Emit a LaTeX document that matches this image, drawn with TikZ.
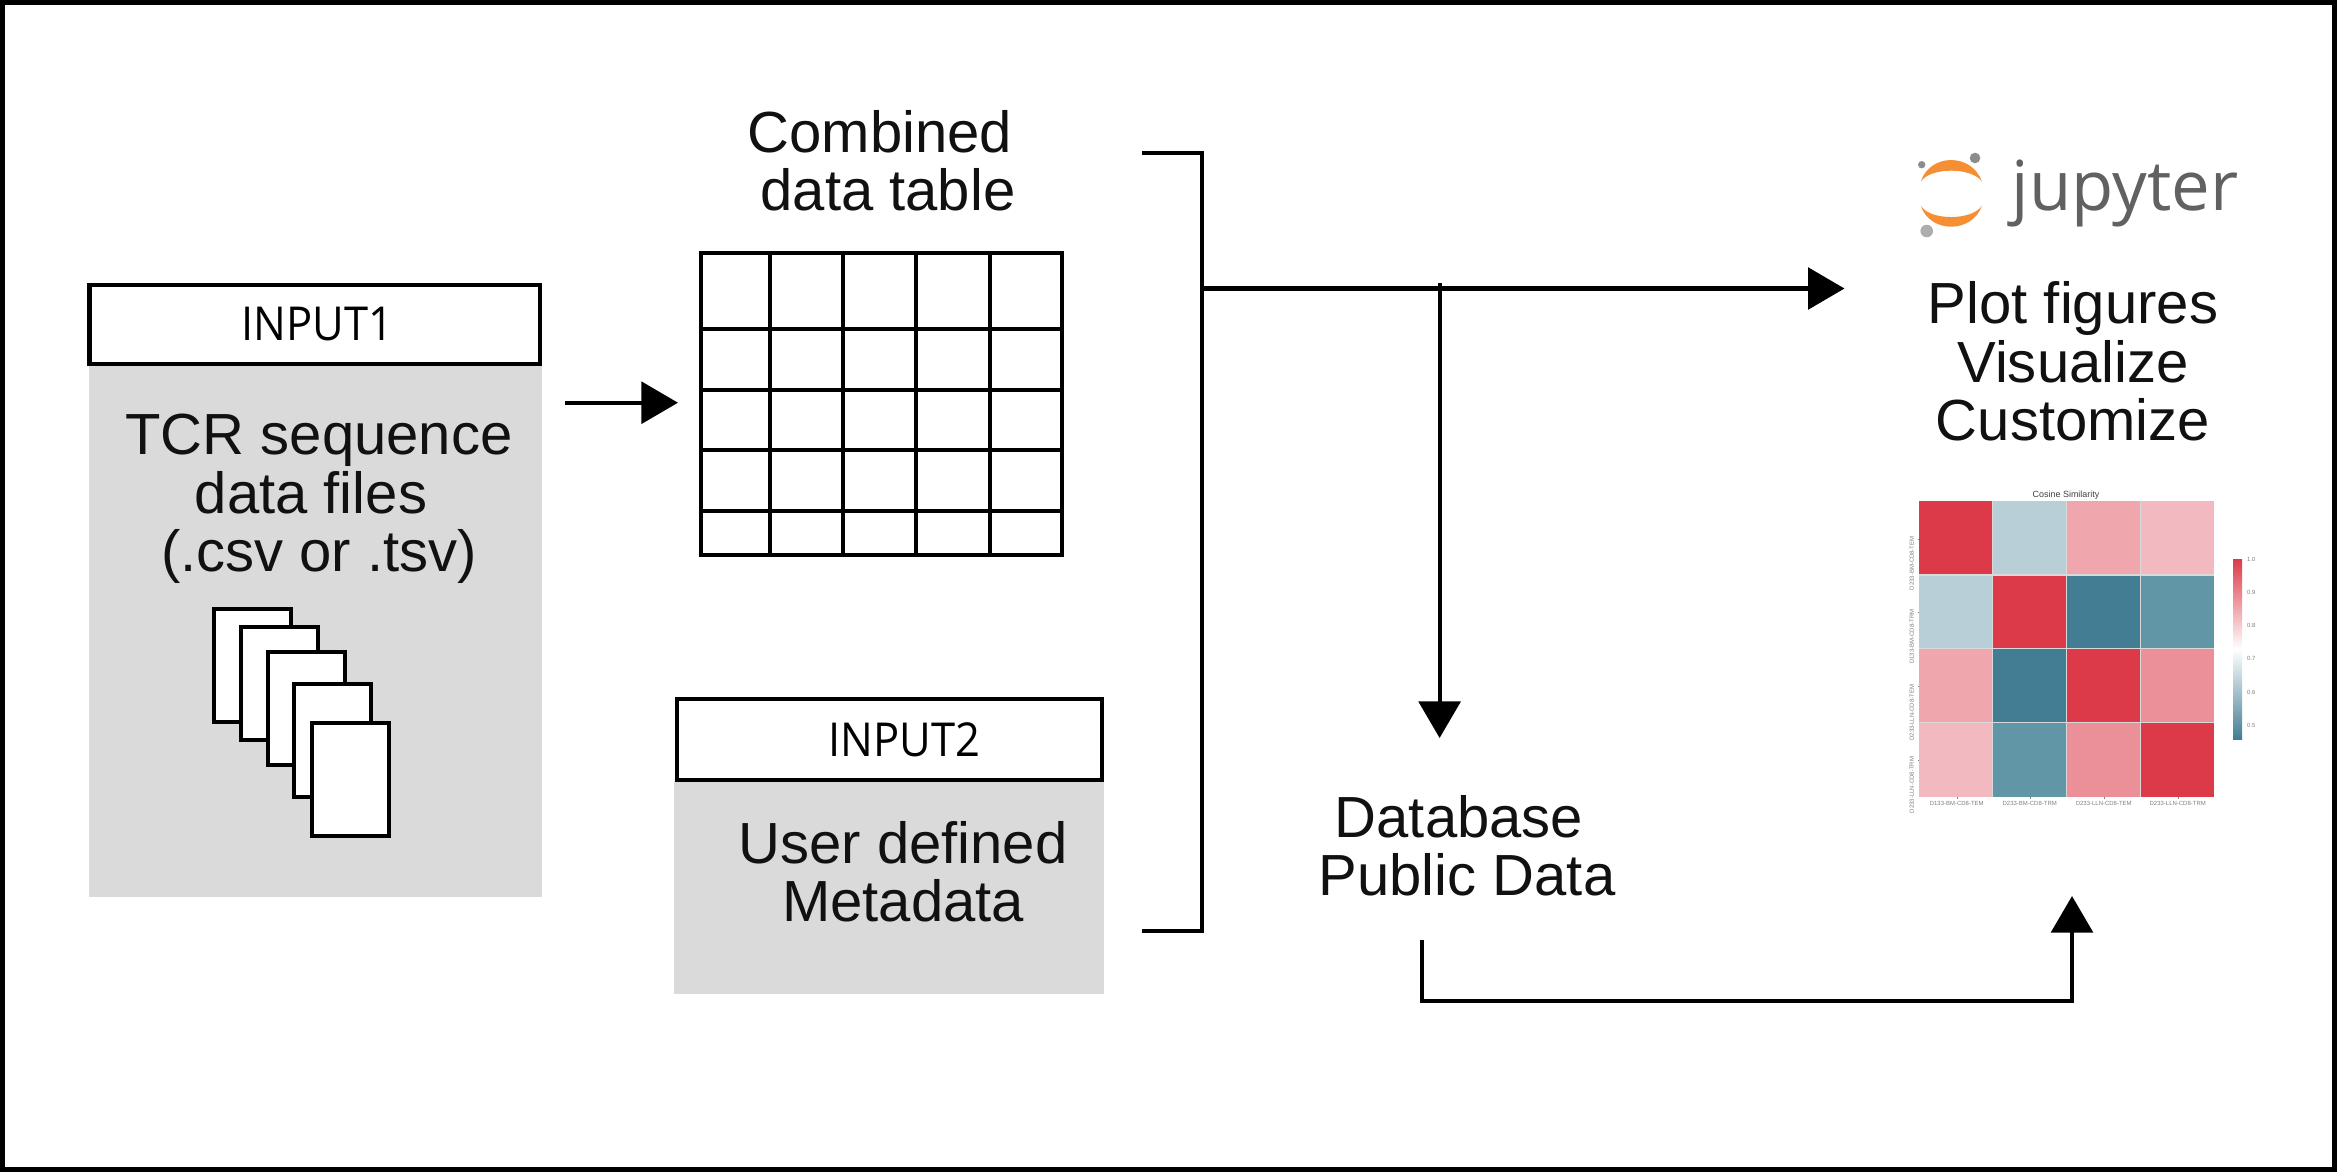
\documentclass[tikz,border=0pt]{standalone}
\usepackage{fontspec}
\setmainfont{Liberation Sans}
\newfontfamily\labelfont[FakeStretch=0.93]{Open Sans}
\newfontfamily\logofont{Open Sans}
\usetikzlibrary{arrows.meta}

\definecolor{panelgrey}{HTML}{DADADA}
\definecolor{inktext}{HTML}{111111}
\definecolor{logogrey}{HTML}{616161}
\definecolor{logoorange}{HTML}{F68E33}
\definecolor{hred}{HTML}{DC3A48}
\definecolor{hpale}{HTML}{B8CFD8}
\definecolor{hpink}{HTML}{EFA7AD}
\definecolor{hrose}{HTML}{F3B9C0}
\definecolor{hcoral}{HTML}{EB8F98}
\definecolor{hteal}{HTML}{427D93}
\definecolor{hsteel}{HTML}{6196A7}

\tikzset{
  line/.style={line width=0.042cm, black},
  flow/.style={line, -{Triangle[length=0.365cm,width=0.415cm]}},
  panel/.style={fill=panelgrey, anchor=north west, inner sep=0pt},
  inputbox/.style={draw, line width=0.042cm, fill=white, anchor=north west, inner sep=0pt, font=\labelfont\fontsize{13.3}{14}\selectfont},
  bigtext/.style={font=\fontsize{16.5}{16.6}\selectfont, text=inktext, align=center, anchor=base, inner sep=0pt},
  pagebox/.style={draw, line width=0.04cm, fill=white, anchor=north west, inner sep=0pt, minimum width=0.77cm, minimum height=1.13cm},
  ticklabel/.style={font=\fontsize{1.7}{2}\selectfont, text=black!50, inner sep=0pt},
}

\begin{document}
\begin{tikzpicture}[x=0.01cm,y=-0.01cm]
  \useasboundingbox (0,0) rectangle (2337,1172);
  \draw[line width=0.045cm] (2.3,2.3) rectangle (2334.7,1169.7);

  % first input with its stack of files
  \node[panel, minimum width=4.53cm, minimum height=5.32cm] (panelone) at (88,364) {};
  \node[inputbox, minimum width=4.5cm, minimum height=0.785cm] (inputone) at (87.3,283) {\hspace*{0.06cm}INPUT1};
  \node[bigtext] (tcrtext) at (319,571.7) {TCR sequence\\data files\hspace*{0.16cm}\null\\(.csv or .tsv)};
  \foreach \i/\x/\y in {1/212/606.6, 2/239/624.5, 3/266/650, 4/292/682, 5/310/721} {
    \node[pagebox] (page\i) at (\x,\y) {};
  }

  % combined table
  \node[bigtext] (tabletext) at (880,210.7) {Combined\\\hspace*{0.16cm}data table};
  \foreach \x in {701,770,843,916,990,1062} {
    \draw[line] (\x,253) -- (\x,555);
  }
  \foreach \y in {253,329,390,450,511,555} {
    \draw[line, line cap=rect] (701,\y) -- (1062,\y);
  }

  % second input
  \node[panel, minimum width=4.3cm, minimum height=2.13cm] (paneltwo) at (673,780) {};
  \node[inputbox, minimum width=4.25cm, minimum height=0.805cm] (inputtwo) at (675,697) {\hspace*{0.29cm}\raisebox{-1.1pt}{INPUT2}};
  \node[bigtext] (metatext) at (903,921.7) {User defined\\Metadata};

  % connectors
  \coordinate (tablein) at (678,402.7);
  \coordinate (inputout) at (565,402.7);
  \draw[flow] (inputout) -- (tablein);

  \coordinate (brackettop) at (1142,152.7);
  \coordinate (bracketbot) at (1142,930.7);
  \coordinate (brackethub) at (1202,288.5);
  \coordinate (plotin) at (1844.5,288.5);
  \draw[line, line join=miter] (brackettop) -- (1202,152.7) -- (1202,930.7) -- (bracketbot);
  \draw[flow] (brackethub) -- (plotin);

  \coordinate (dbdrop) at (1439.6,283);
  \coordinate (dbin) at (1439.6,738);
  \draw[flow] (dbdrop) -- (dbin);

  \node[bigtext] (dbtext) at (1467,895.7) {Database\hspace*{0.16cm}\\Public Data};

  \coordinate (dbout) at (1422,940);
  \coordinate (heatin) at (2072,896);
  \draw[flow, line join=miter] (dbout) |- (1700,1000.7) -| (heatin);

  % jupyter logo
  \fill[logoorange] (1920.7,181.7) .. controls (1930,152.8) and (1972,152.8) .. (1982,181.7)
    .. controls (1972,167) and (1930,167) .. cycle;
  \fill[logoorange] (1920.7,205.7) .. controls (1930,233.7) and (1972,233.7) .. (1982,205.7)
    .. controls (1972,220.8) and (1930,220.8) .. cycle;
  \fill[black!45] (1921.7,164.7) circle (3.7);
  \fill[black!45] (1975,158) circle (5.3);
  \fill[black!32] (1926.7,231) circle (6.3);
  \node[font=\logofont\fontsize{19.6}{20}\selectfont, text=logogrey, anchor=base west, inner sep=0pt] (logotext) at (2011,210.7) {jupyter};

  \node[bigtext] (plottext) at (2073,440.7) {Plot figures\\Visualize\\Customize};

  % heatmap
  \foreach \row [count=\j from 0] in {{hred,hpale,hpink,hrose},{hpale,hred,hteal,hsteel},{hpink,hteal,hred,hcoral},{hrose,hsteel,hcoral,hred}} {
    \foreach \col [count=\i from 0] in \row {
      \fill[\col] ({1919+73.8*\i},{501+73.9*\j}) rectangle ++(73.8,73.9);
    }
  }
  \foreach \k in {1,2,3} {
    \draw[white!85!black, line width=0.012cm] ({1919+73.8*\k},501) -- ({1919+73.8*\k},796.7);
    \draw[white!85!black, line width=0.012cm] (1919,{501+73.9*\k}) -- (2214,{501+73.9*\k});
  }
  \node[font=\fontsize{2.55}{3}\selectfont, text=black!75, inner sep=0pt] (heattitle) at (2066,495) {Cosine Similarity};
  \foreach \k/\name/\yc in {0/D233-BM-CD8-TEM/563.3, 1/D133-BM-CD8-TRM/636.7, 2/D233-LLN-CD8-TEM/712.7, 3/D233-LLN-CD8-TRM/785} {
    \node[ticklabel, rotate=90] (rowlabel\k) at (1911.7,\yc) {\name};
    \draw[black!50, line width=0.004cm] (1917.5,{538.7+73.9*\k}) -- (1919,{538.7+73.9*\k});
  }
  \foreach \k/\name/\xc in {0/D133-BM-CD8-TEM/1956.7, 1/D233-BM-CD8-TRM/2029.7, 2/D233-LLN-CD8-TEM/2103.7, 3/D233-LLN-CD8-TRM/2177.7} {
    \node[ticklabel] (collabel\k) at (\xc,803.3) {\name};
    \draw[black!50, line width=0.004cm] (\xc,796.7) -- (\xc,798.5);
  }

  % colour bar
  \shade[bottom color=hteal, top color=hred, middle color=white] (2233,559) rectangle (2242,739);
  \foreach \v/\y in {1.0/559.3, 0.9/592, 0.8/625.7, 0.7/658.7, 0.6/692.3, 0.5/725.7} {
    \node[ticklabel, anchor=west] (bar\v) at (2246.5,\y) {\v};
  }
\end{tikzpicture}
\end{document}
